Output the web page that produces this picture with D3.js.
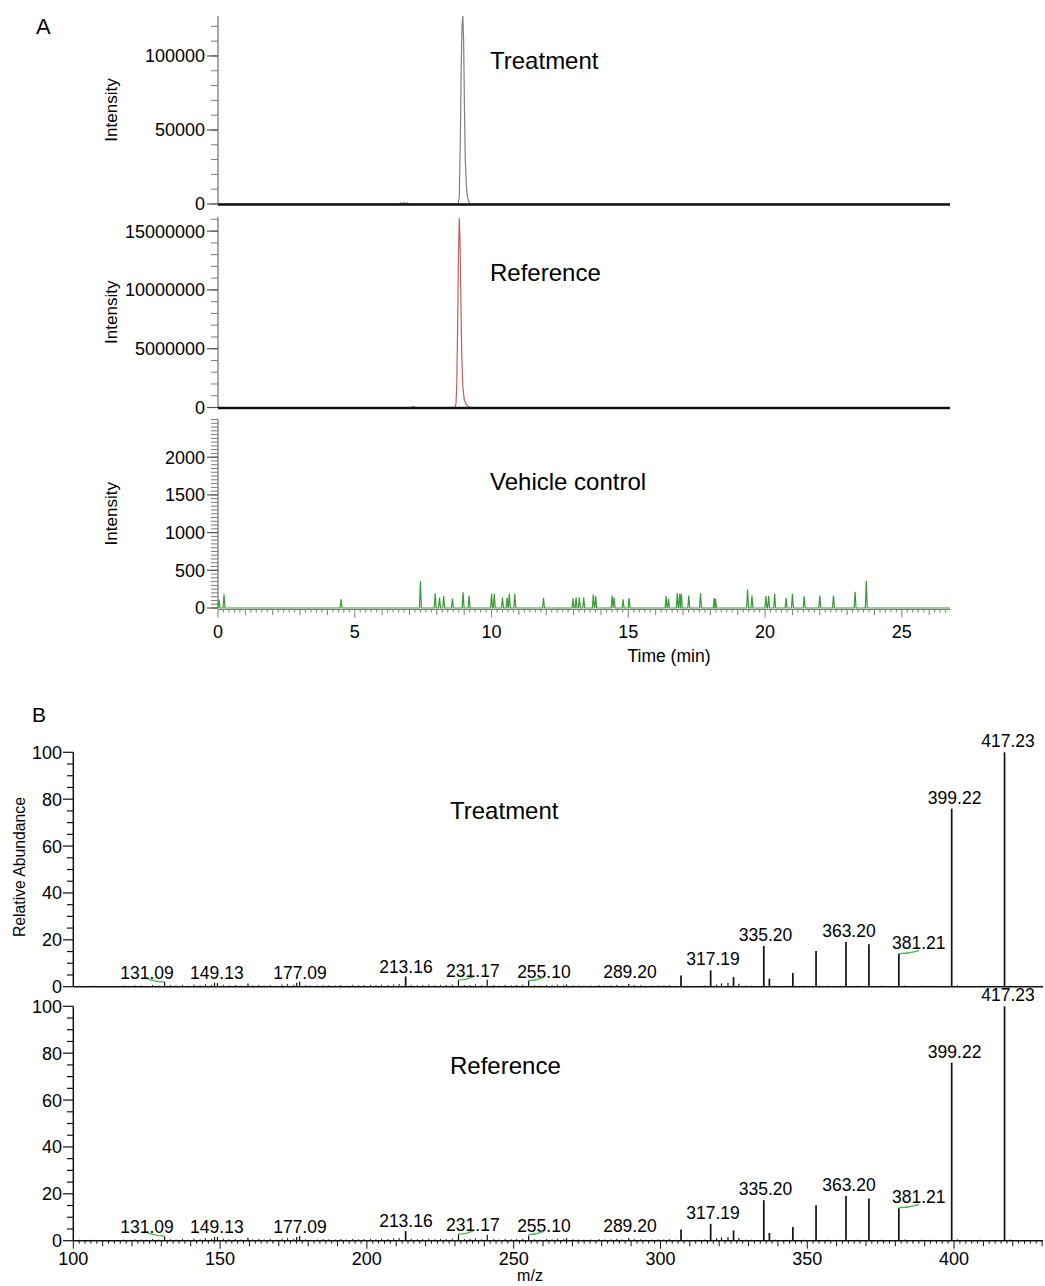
<!DOCTYPE html>
<html><head><meta charset="utf-8">
<script src="https://cdn.jsdelivr.net/npm/d3@7"></script>
<style>body{margin:0;background:#fff}svg{display:block;font-family:"Liberation Sans",Arial,Helvetica,sans-serif}</style>
</head><body><svg id="c" width="1045" height="1286"></svg>
<script>
// ---------------- DATA ----------------
// Panel A: extracted ion chromatograms (time in min, intensity)
const treatmentTime = [0, 6.62, 6.68, 6.74, 6.8, 6.86, 6.92, 6.98, 8.78, 8.82, 8.86, 8.89, 8.92, 8.95, 8.98, 9.01, 9.04, 9.08, 9.12, 9.17, 9.22, 26.76];
const treatmentIntensity = [0, 0, 800, 150, 900, 250, 700, 0, 0, 5000, 45000, 90000, 120000, 127000, 110000, 65000, 30000, 12000, 5000, 1500, 0, 0];
const referenceTime = [0, 7.08, 7.14, 7.2, 8.66, 8.7, 8.73, 8.76, 8.79, 8.82, 8.85, 8.88, 8.91, 8.95, 9.0, 9.06, 9.14, 9.22, 26.76];
const referenceIntensity = [0, 0, 80000, 0, 0, 300000, 2000000, 7000000, 13000000, 16100000, 14000000, 9000000, 4500000, 1800000, 700000, 300000, 100000, 0, 0];
const vehicleSpikeTime = [0.04, 0.22, 4.5, 7.4, 7.94, 8.1, 8.25, 8.57, 8.96, 9.18, 10.0, 10.1, 10.4, 10.57, 10.65, 10.85, 11.9, 12.98, 13.09, 13.21, 13.37, 13.72, 13.81, 14.41, 14.48, 14.81, 15.03, 16.38, 16.47, 16.79, 16.88, 16.94, 17.21, 17.64, 18.14, 18.19, 19.36, 19.52, 20.03, 20.13, 20.35, 20.77, 21.0, 21.43, 22.0, 22.5, 23.29, 23.7];
const vehicleSpikeHeight = [110, 180, 115, 357, 196, 140, 160, 125, 210, 165, 190, 190, 140, 140, 190, 190, 132, 130, 140, 140, 140, 180, 160, 165, 140, 115, 132, 160, 125, 200, 188, 190, 165, 200, 132, 120, 245, 165, 160, 160, 188, 132, 188, 155, 165, 165, 215, 360];
const chromTitles = ["Treatment", "Reference", "Vehicle control"];
const chromYMax = [127000, 16200000, 2500];
const chromYMajor = [[0, 50000, 100000], [0, 5000000, 10000000, 15000000], [0, 500, 1000, 1500, 2000]];
const chromYMinorStep = [10000, 1000000, 50];
const timeTicks = [0, 5, 10, 15, 20, 25];

// Panel B: MS/MS spectra (m/z, relative abundance)
const treatMz = [131.1, 148.1, 149.1, 159.5, 176.1, 177.1, 213.2, 231.2, 241.0, 255.1, 268.0, 289.2, 307.0, 317.1, 319.1, 320.8, 323.0, 324.9, 326.7, 335.2, 337.1, 345.1, 353.0, 363.2, 371.0, 381.2, 399.2, 417.2];
const treatAbund = [2.0, 1.7, 1.5, 1.4, 1.7, 2.1, 4.4, 2.8, 3.0, 2.6, 1.0, 1.2, 4.8, 7.0, 0.9, 1.4, 1.7, 4.1, 1.3, 17.4, 3.4, 5.8, 15.2, 19.1, 18.1, 14.1, 76.0, 100];
const refMz = [131.1, 148.1, 149.1, 159.5, 176.1, 177.1, 213.2, 231.2, 241.0, 255.1, 268.0, 289.2, 307.0, 317.1, 319.1, 320.8, 323.0, 324.9, 326.7, 335.2, 337.1, 345.1, 353.0, 363.2, 371.0, 381.2, 399.2, 417.2];
const refAbund = [1.8, 1.5, 1.6, 1.3, 1.6, 2.0, 4.1, 2.8, 2.5, 2.2, 1.1, 1.1, 4.8, 7.2, 1.0, 1.3, 1.6, 4.4, 1.2, 17.3, 3.3, 5.8, 15.1, 19.1, 18.0, 13.8, 76.0, 100];
const noiseMz = [102.1, 104.3, 107.0, 109.2, 113.8, 117.1, 119.2, 121.0, 123.1, 125.2, 127.0, 129.1, 133.1, 135.0, 137.2, 139.0, 141.1, 143.2, 145.0, 147.1, 151.1, 153.0, 155.2, 157.1, 161.1, 163.2, 165.0, 167.1, 169.2, 171.1, 173.0, 175.1, 179.1, 181.0, 183.2, 185.1, 187.0, 189.2, 191.1, 193.0, 195.2, 197.1, 199.0, 201.2, 203.1, 205.0, 207.2, 209.1, 211.0, 215.1, 217.2, 219.0, 221.1, 223.2, 225.1, 227.0, 229.1, 233.2, 235.1, 237.0, 239.1, 243.2, 245.0, 247.1, 249.2, 251.0, 253.1, 257.1, 259.0, 261.2, 263.1, 265.0, 267.1, 270.2, 272.1, 274.0, 276.2, 279.1, 281.0, 283.2, 285.1, 287.0, 291.1, 293.2, 295.0, 297.1, 299.2, 301.1, 303.0, 305.1, 309.2, 311.1, 313.0, 315.1, 329.1, 331.0, 339.2, 341.1, 343.0, 347.2, 349.1, 351.0, 355.2, 357.1, 359.0, 361.2, 365.1, 367.0, 369.1, 373.2, 375.1, 377.0, 379.1, 383.2, 385.1, 389.0, 391.2, 393.1, 395.0, 397.1, 401.2, 403.1, 405.0, 407.2, 409.1, 411.0, 413.1, 415.2, 419.1, 421.0, 423.2, 425.1, 427.0];
const noiseAbund = [0.4, 0.3, 0.4, 0.3, 0.3, 0.5, 0.4, 0.6, 0.5, 0.4, 0.7, 0.5, 0.6, 0.5, 0.8, 0.4, 0.9, 0.6, 1.1, 0.8, 0.9, 0.6, 0.7, 0.5, 0.6, 0.8, 0.5, 0.7, 0.4, 0.9, 1.2, 0.8, 0.6, 0.4, 0.5, 0.7, 0.6, 0.5, 0.7, 0.5, 0.8, 0.6, 0.7, 0.8, 0.6, 0.9, 0.7, 1.0, 1.2, 0.8, 0.6, 0.7, 0.9, 0.6, 0.8, 0.7, 0.9, 0.7, 0.8, 1.0, 0.6, 0.7, 0.5, 0.8, 0.6, 0.7, 0.9, 0.6, 0.5, 0.7, 0.6, 0.9, 0.8, 0.6, 0.5, 0.4, 0.5, 0.7, 0.5, 0.6, 0.8, 0.5, 0.7, 0.6, 0.4, 0.5, 0.6, 0.5, 0.7, 0.4, 0.4, 0.3, 0.4, 0.5, 0.5, 0.4, 0.4, 0.3, 0.4, 0.3, 0.4, 0.3, 0.3, 0.4, 0.3, 0.4, 0.3, 0.4, 0.3, 0.3, 0.4, 0.3, 0.3, 0.5, 0.3, 0.4, 0.3, 0.4, 0.3, 0.3, 0.6, 0.3, 0.3, 0.3, 0.4, 0.3, 0.3, 0.3, 0.5, 0.3, 0.3, 0.3, 0.3];
// peak labels: text, label centre (m/z), label baseline level (abundance)
const labelText = ["131.09", "149.13", "177.09", "213.16", "231.17", "255.10", "289.20", "317.19", "335.20", "363.20", "381.21", "399.22", "417.23"];
const labelMz = [125.1, 148.9, 177.2, 213.3, 236.1, 260.3, 289.6, 317.9, 335.8, 364.2, 388.0, 400.2, 418.4];
const labelLevel = [3.2, 3.2, 3.2, 6.0, 4.3, 3.8, 3.5, 9.2, 19.5, 21.3, 15.9, 77.8, 102.2];
// green leader marks: from peak (m/z, abundance) to (m/z, abundance)
const leaderFromMz = [131.09, 231.17, 255.10, 381.21];
const leaderFromAb = [2.0, 2.8, 2.6, 14.1];
const leaderToMz = [125.4, 236.1, 260.0, 388.1];
const leaderToAb = [3.2, 4.1, 3.9, 15.4];
const mzMajor = [100, 150, 200, 250, 300, 350, 400];
const abundMajor = [0, 20, 40, 60, 80, 100];

// ---------------- DRAW ----------------
const svg = d3.select("#c");
const txt = (x, y, s, size, anchor) => svg.append("text").attr("x", x).attr("y", y).attr("font-size", size)
  .attr("text-anchor", anchor || "start").attr("fill", "#000").text(s);

txt(36, 34, "A", 22);
txt(32, 722, "B", 21);

// Panel A
const xA = d3.scaleLinear().domain([0, 26.76]).range([218, 950]);
const zeroY = [204, 407.5, 608];
const topY = [16, 217, 419.5];
const lineColors = ["#808080", "#c0605e", "#3a9a3a"];
const titleY = [69, 281, 490];

const vehPts = [[0, 0]];
vehicleSpikeTime.forEach((t, i) => { vehPts.push([t - 0.035, 0], [t, vehicleSpikeHeight[i]], [t + 0.035, 0]); });
vehPts.push([26.76, 0]);
const series = [
  treatmentTime.map((t, i) => [t, treatmentIntensity[i]]),
  referenceTime.map((t, i) => [t, referenceIntensity[i]]),
  vehPts
];

for (let p = 0; p < 3; p++) {
  const y = d3.scaleLinear().domain([0, chromYMax[p]]).range([zeroY[p], topY[p]]);
  const g = svg.append("g");
  g.append("line").attr("x1", 218).attr("x2", 218).attr("y1", y(0)).attr("y2", y(chromYMax[p]))
    .attr("stroke", "#7a7a7a").attr("stroke-width", 1.3);
  const minor = d3.range(0, chromYMax[p] + 1, chromYMinorStep[p]);
  g.selectAll(".mn").data(minor).enter().append("line")
    .attr("x1", 211).attr("x2", 218).attr("y1", d => y(d)).attr("y2", d => y(d))
    .attr("stroke", "#7a7a7a").attr("stroke-width", 1);
  g.selectAll(".mj").data(chromYMajor[p]).enter().append("line")
    .attr("x1", 207).attr("x2", 218).attr("y1", d => y(d)).attr("y2", d => y(d))
    .attr("stroke", "#555").attr("stroke-width", 1.2);
  g.selectAll(".lb").data(chromYMajor[p]).enter().append("text")
    .attr("x", 205).attr("y", d => y(d)).attr("dy", "0.36em").attr("text-anchor", "end")
    .attr("font-size", 18).text(d => d3.format("d")(d));
  const line = d3.line().x(d => xA(d[0])).y(d => y(d[1]));
  g.append("path").attr("d", line(series[p])).attr("fill", "none")
    .attr("stroke", lineColors[p]).attr("stroke-width", 1.2);
  if (p < 2) {
    g.append("line").attr("x1", xA(0)).attr("x2", xA(26.76)).attr("y1", y(0) + 0.5).attr("y2", y(0) + 0.5)
      .attr("stroke", "#111").attr("stroke-width", 2.4);
  }
  const cy = (y(0) + y(chromYMax[p])) / 2;
  svg.append("text").attr("transform", `translate(117,${cy}) rotate(-90)`).attr("text-anchor", "middle")
    .attr("font-size", 17).text("Intensity");
  txt(490, titleY[p], chromTitles[p], 24);
}
// time axis
{
  const ay = 609.5;
  const g = svg.append("g");
  g.append("line").attr("x1", xA(0)).attr("x2", xA(26.76)).attr("y1", ay).attr("y2", ay)
    .attr("stroke", "#7a7a7a").attr("stroke-width", 1.2);
  const small = d3.range(0, 26.76, 0.2);
  g.selectAll(".s").data(small).enter().append("line")
    .attr("x1", d => xA(d)).attr("x2", d => xA(d)).attr("y1", ay)
    .attr("y2", d => { const r = Math.round(d * 5); return ay + (r % 25 === 0 ? 8 : r % 5 === 0 ? 5.5 : 3); })
    .attr("stroke", "#7a7a7a").attr("stroke-width", 1);
  g.selectAll(".l").data(timeTicks).enter().append("text")
    .attr("x", d => xA(d)).attr("y", 638).attr("text-anchor", "middle").attr("font-size", 18).text(d => d);
  txt(669, 662, "Time (min)", 17.5, "middle");
}

// Panel B
const xB = d3.scaleLinear().domain([100, 430.3]).range([73.3, 1043]);
const specZero = [986.7, 1240.7];
const specTop = [752.3, 1006.3];
const specMz = [treatMz, refMz];
const specAb = [treatAbund, refAbund];
const specTitles = ["Treatment", "Reference"];
const specTitleY = [819, 1074];

for (let p = 0; p < 2; p++) {
  const y = d3.scaleLinear().domain([0, 100]).range([specZero[p], specTop[p]]);
  const g = svg.append("g");
  g.selectAll(".n").data(noiseMz).enter().append("line")
    .attr("x1", d => xB(d)).attr("x2", d => xB(d)).attr("y1", y(0))
    .attr("y2", (d, i) => y(noiseAbund[i])).attr("stroke", "#222").attr("stroke-width", 1);
  g.selectAll(".pk").data(specMz[p]).enter().append("line")
    .attr("x1", d => xB(d)).attr("x2", d => xB(d)).attr("y1", y(0))
    .attr("y2", (d, i) => y(specAb[p][i])).attr("stroke", "#111")
    .attr("stroke-width", (d, i) => specAb[p][i] > 3 ? 1.7 : 1.2);
  g.append("line").attr("x1", 73.3).attr("x2", 73.3).attr("y1", y(0)).attr("y2", y(100))
    .attr("stroke", "#111").attr("stroke-width", 1.5);
  g.append("line").attr("x1", 73.3).attr("x2", 1043).attr("y1", y(0)).attr("y2", y(0))
    .attr("stroke", "#111").attr("stroke-width", 1.5);
  g.selectAll(".mn").data(d3.range(0, 101, 5)).enter().append("line")
    .attr("x1", d => d % 20 === 0 ? 63 : 67).attr("x2", 73.3).attr("y1", d => y(d)).attr("y2", d => y(d))
    .attr("stroke", "#111").attr("stroke-width", 1.2);
  g.selectAll(".lb").data(abundMajor).enter().append("text")
    .attr("x", 62).attr("y", d => y(d)).attr("dy", "0.36em").attr("text-anchor", "end")
    .attr("font-size", 18).text(d => d);
  g.selectAll(".pl").data(labelText).enter().append("text")
    .attr("x", (d, i) => xB(labelMz[i])).attr("y", (d, i) => y(labelLevel[i]))
    .attr("text-anchor", "middle").attr("font-size", 17.5).text(d => d);
  g.selectAll(".ld").data(leaderFromMz).enter().append("path")
    .attr("d", (d, i) => {
      const x0 = xB(d), y0 = y(leaderFromAb[i]), x1 = xB(leaderToMz[i]), y1 = y(leaderToAb[i]);
      return `M${x0},${y0} Q${(x0 + x1) / 2},${y0} ${x1},${y1}`;
    })
    .attr("fill", "none").attr("stroke", "#4cbb4c").attr("stroke-width", 1.4);
  txt(450, specTitleY[p], specTitles[p], 24);
  if (p === 1) {
    const ay = y(0);
    const ticks = d3.range(100, 430.3, 2);
    g.selectAll(".xt").data(ticks).enter().append("line")
      .attr("x1", d => xB(d)).attr("x2", d => xB(d)).attr("y1", ay)
      .attr("y2", d => ay + (d % 50 === 0 ? 8 : d % 10 === 0 ? 5.5 : 3))
      .attr("stroke", "#111").attr("stroke-width", 1);
    g.selectAll(".xl").data(mzMajor).enter().append("text")
      .attr("x", d => xB(d)).attr("y", 1265).attr("text-anchor", "middle").attr("font-size", 18).text(d => d);
    txt(530, 1281, "m/z", 16, "middle");
  }
}
svg.append("text").attr("transform", "translate(25,867) rotate(-90)").attr("text-anchor", "middle")
  .attr("font-size", 17).attr("textLength", 140).attr("lengthAdjust", "spacingAndGlyphs").text("Relative Abundance");
</script></body></html>
